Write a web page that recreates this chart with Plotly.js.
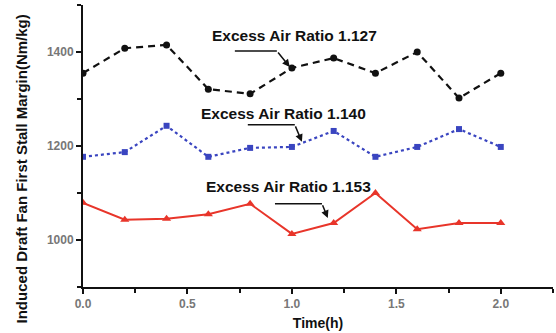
<!DOCTYPE html>
<html>
<head>
<meta charset="utf-8">
<script src="https://cdn.plot.ly/plotly-3.0.1.min.js"></script>
<style>html,body{margin:0;padding:0;background:#fff;}#chart{width:556px;height:333px;}</style>
</head>
<body>
<div id="chart"></div>
<script>
// Data
const timeH = [0, 0.2, 0.4, 0.6, 0.8, 1.0, 1.2, 1.4, 1.6, 1.8, 2.0];
const ratio1127 = [1355, 1408, 1415, 1321, 1311, 1366, 1387, 1355, 1400, 1302, 1355];
const ratio1140 = [1177, 1187, 1243, 1177, 1196, 1198, 1232, 1177, 1198, 1236, 1198];
const ratio1153 = [1079, 1043, 1045, 1055, 1077, 1013, 1036, 1100, 1023, 1036, 1036];
const seriesNames = ["Excess Air Ratio 1.127", "Excess Air Ratio 1.140", "Excess Air Ratio 1.153"];
const yTitle = "Induced Draft Fan First Stall Margin(Nm/kg)";
const xTitle = "Time(h)";

const FONT = "Arial, 'Liberation Sans', sans-serif";

const traces = [
  {x: timeH, y: ratio1127, name: seriesNames[0], type: 'scatter', mode: 'lines+markers',
   line: {color: '#111111', width: 2.2, dash: '7px,5px'}, marker: {symbol: 'circle', size: 7, color: '#111111'}},
  {x: timeH, y: ratio1140, name: seriesNames[1], type: 'scatter', mode: 'lines+markers',
   line: {color: '#3a45c0', width: 2.2, dash: 'dot'}, marker: {symbol: 'square', size: 6, color: '#3a45c0'}},
  {x: timeH, y: ratio1153, name: seriesNames[2], type: 'scatter', mode: 'lines+markers',
   line: {color: '#e8352a', width: 2}, marker: {symbol: 'triangle-up', size: 8, color: '#e8352a'}}
];

// annotation layout (label centre, horizontal leader start, corner, arrow tip) in data units
const labelPos = [[1.014, 1436], [0.962, 1270], [0.986, 1113]];
const leaderStart = [[0.727, 1402], [0.789, 1245], [0.919, 1077]];
const leaderCorner = [[0.928, 1402], [1.014, 1245], [1.144, 1077]];
const arrowTip = [[0.990, 1368], [1.048, 1209], [1.172, 1047]];

const annotations = [];
const shapes = [];
for (let i = 0; i < 3; i++) {
  annotations.push({x: labelPos[i][0], y: labelPos[i][1], xref: 'x', yref: 'y', text: seriesNames[i],
    showarrow: false, font: {family: FONT, size: 15.5, color: '#111', weight: 'bold'}});
  annotations.push({x: arrowTip[i][0], y: arrowTip[i][1], xref: 'x', yref: 'y',
    ax: leaderCorner[i][0], ay: leaderCorner[i][1], axref: 'x', ayref: 'y', text: '',
    showarrow: true, arrowhead: 2, arrowsize: 1, arrowwidth: 1.5, arrowcolor: '#111'});
  shapes.push({type: 'line', xref: 'x', yref: 'y', x0: leaderStart[i][0], y0: leaderStart[i][1],
    x1: leaderCorner[i][0], y1: leaderCorner[i][1], line: {color: '#111', width: 1.5}});
}
// y-axis title drawn as rotated text so it can sit where the original has it
annotations.push({xref: 'paper', yref: 'paper', x: -0.13, y: 0.42, xanchor: 'center', yanchor: 'middle',
  text: yTitle, textangle: -90, showarrow: false,
  font: {family: FONT, size: 15, color: '#111', weight: 'bold'}});

const layout = {
  width: 556, height: 333,
  margin: {l: 83, r: 3, t: 5, b: 46},
  paper_bgcolor: '#fff', plot_bgcolor: '#fff',
  showlegend: false,
  xaxis: {
    range: [0, 2.25], tick0: 0, dtick: 0.5, tickformat: '.1f',
    showgrid: false, zeroline: false, showline: true, linecolor: '#111', linewidth: 2,
    ticks: 'outside', ticklen: 5, tickwidth: 2, tickcolor: '#111',
    minor: {ticks: 'outside', ticklen: 4, tickwidth: 2, tickcolor: '#111', dtick: 0.25, tick0: 0, showgrid: false},
    tickfont: {family: FONT, size: 12, color: '#777', weight: 'bold'},
    title: {text: xTitle, font: {family: FONT, size: 14, color: '#111', weight: 'bold'}, standoff: 8}
  },
  yaxis: {
    range: [900, 1500], tick0: 1000, dtick: 200,
    showgrid: false, zeroline: false, showline: true, linecolor: '#111', linewidth: 2,
    ticks: 'outside', ticklen: 5, tickwidth: 2, tickcolor: '#111',
    minor: {ticks: 'outside', ticklen: 4, tickwidth: 2, tickcolor: '#111', dtick: 100, tick0: 900, showgrid: false},
    tickfont: {family: FONT, size: 12, color: '#777', weight: 'bold'}
  },
  annotations: annotations,
  shapes: shapes
};

Plotly.newPlot('chart', traces, layout, {displayModeBar: false, staticPlot: true});
</script>
</body>
</html>
